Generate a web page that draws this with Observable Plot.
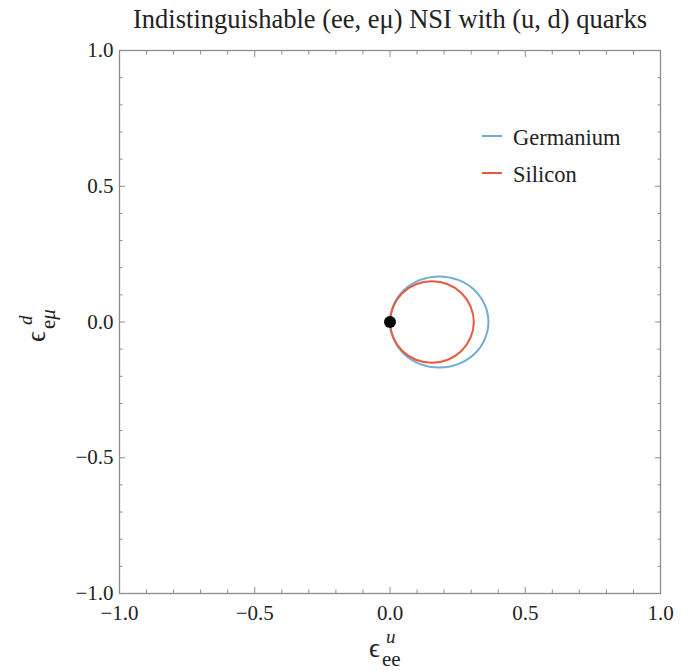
<!DOCTYPE html>
<html><head><meta charset="utf-8">
<script src="https://cdn.jsdelivr.net/npm/d3@7"></script>
<script src="https://cdn.jsdelivr.net/npm/@observablehq/plot@0.6"></script>
<style>
body{margin:0;background:#fff}
#chart{width:693px;height:671px}
svg text{font-family:"Liberation Serif",serif}
</style>
</head><body><div id="chart"></div>
<script>
const titleText = "Indistinguishable (ee, eμ) NSI with (u, d) quarks";
const seriesNames = ["Germanium", "Silicon"];
const seriesColors = ["#74acd5", "#e85a40"];
// curves (points around each closed contour)
const germaniumX = [0.364, 0.350, 0.311, 0.252, 0.182, 0.112, 0.053, 0.014, 0.000, 0.014, 0.053, 0.112, 0.182, 0.252, 0.311, 0.350];
const germaniumY = [0.000, 0.064, 0.119, 0.155, 0.168, 0.155, 0.119, 0.064, 0.000, -0.064, -0.119, -0.155, -0.168, -0.155, -0.119, -0.064];
const siliconX = [0.310, 0.298, 0.265, 0.214, 0.155, 0.096, 0.045, 0.012, 0.000, 0.012, 0.045, 0.096, 0.155, 0.214, 0.265, 0.298];
const siliconY = [0.000, 0.057, 0.106, 0.139, 0.150, 0.139, 0.106, 0.057, 0.000, -0.057, -0.106, -0.139, -0.150, -0.139, -0.106, -0.057];
const originX = [0];
const originY = [0];
const majorTicks = [-1, -0.5, 0, 0.5, 1];
const minorTicks = [-0.9, -0.8, -0.7, -0.6, -0.4, -0.3, -0.2, -0.1, 0.1, 0.2, 0.3, 0.4, 0.6, 0.7, 0.8, 0.9];

const curves = [
  ...germaniumX.map((x, i) => ({series: seriesNames[0], x, y: germaniumY[i]})),
  ...siliconX.map((x, i) => ({series: seriesNames[1], x, y: siliconY[i]}))
];
const origin = originX.map((x, i) => ({x, y: originY[i]}));

const frameColor = "#8c8c8c";
const tickMarks = [];
for (const anchor of ["top", "bottom"]) {
  tickMarks.push(Plot.axisX({anchor, ticks: majorTicks, tickSize: -6, tickFormat: () => "", label: null, stroke: frameColor}));
  tickMarks.push(Plot.axisX({anchor, ticks: minorTicks, tickSize: -3.5, tickFormat: () => "", label: null, stroke: frameColor}));
}
for (const anchor of ["left", "right"]) {
  tickMarks.push(Plot.axisY({anchor, ticks: majorTicks, tickSize: -6, tickFormat: () => "", label: null, stroke: frameColor}));
  tickMarks.push(Plot.axisY({anchor, ticks: minorTicks, tickSize: -3.5, tickFormat: () => "", label: null, stroke: frameColor}));
}

const chart = Plot.plot({
  width: 693,
  height: 671,
  marginLeft: 119,
  marginRight: 33,
  marginTop: 50,
  marginBottom: 78,
  style: {fontFamily: "Liberation Serif, serif", background: "#fff"},
  x: {domain: [-1, 1]},
  y: {domain: [-1, 1]},
  color: {domain: seriesNames, range: seriesColors},
  marks: [
    Plot.line(curves, {x: "x", y: "y", z: "series", stroke: "series", strokeWidth: 2, curve: "catmull-rom-closed"}),
    Plot.dot(origin, {x: "x", y: "y", r: 6, fill: "#000", stroke: null}),
    Plot.frame({stroke: frameColor, strokeWidth: 1.3}),
    ...tickMarks,
    Plot.axisX({anchor: "bottom", ticks: majorTicks, tickSize: 0, tickPadding: 12, tickFormat: d3.format(".1f"), label: null, fontSize: 21, fill: "#222"}),
    Plot.axisY({anchor: "left", ticks: majorTicks, tickSize: 0, tickPadding: 6, tickFormat: d3.format(".1f"), label: null, fontSize: 21, fill: "#222"})
  ]
});
document.getElementById("chart").appendChild(chart);

const svg = d3.select(chart);
// title
svg.append("text").attr("x", 390).attr("y", 28).attr("text-anchor", "middle")
  .attr("font-size", 26.5).attr("fill", "#222").text(titleText);

// x axis label
const xl = svg.append("text").attr("text-anchor", "start").attr("fill", "#222").attr("font-size", 27);
xl.append("tspan").attr("x", 369).attr("y", 657).text("ϵ");
xl.append("tspan").attr("x", 386).attr("y", 643).attr("font-size", 19).attr("font-style", "italic").text("u");
xl.append("tspan").attr("x", 382).attr("y", 666).attr("font-size", 21).text("ee");

// y axis label
const yl = svg.append("text").attr("transform", "translate(45,342) rotate(-90)").attr("text-anchor", "start").attr("fill", "#222").attr("font-size", 27);
yl.append("tspan").attr("x", 0).attr("y", 0).text("ϵ");
yl.append("tspan").attr("x", 17).attr("y", -13).attr("font-size", 19).attr("font-style", "italic").text("d");
yl.append("tspan").attr("x", 13).attr("y", 10).attr("font-size", 21).text("e")
  .append("tspan").attr("font-style", "italic").text("μ");

// legend
const legendY = [136, 173];
seriesNames.forEach((name, i) => {
  svg.append("line").attr("x1", 482).attr("x2", 502).attr("y1", legendY[i]).attr("y2", legendY[i])
    .attr("stroke", seriesColors[i]).attr("stroke-width", 2);
  svg.append("text").attr("x", 513).attr("y", legendY[i] + 9).attr("text-anchor", "start")
    .attr("font-size", 22.5).attr("fill", "#222").text(name);
});
</script>
</body></html>
